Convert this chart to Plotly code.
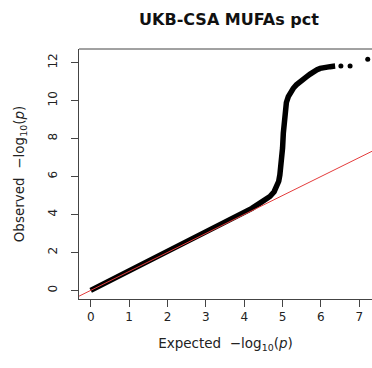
import plotly.graph_objects as go

# QQ data (expected vs observed -log10 p)
curve_expected = [0, 0.5, 1.0, 1.5, 2.0, 2.5, 3.0, 3.37, 3.63, 4.0, 4.2, 4.41, 4.55, 4.67,
                  4.78, 4.85, 4.9, 4.93, 4.96, 4.98, 5.0, 5.02, 5.04, 5.06, 5.1, 5.15,
                  5.21, 5.28, 5.36, 5.45, 5.54, 5.63, 5.72, 5.8, 5.9, 5.98, 6.1, 6.24, 6.37]
curve_observed = [0, 0.51, 1.02, 1.53, 2.04, 2.55, 3.07, 3.46, 3.72, 4.1, 4.32, 4.6, 4.77, 4.95,
                  5.2, 5.47, 5.75, 6.09, 6.5, 6.9, 7.5, 8.28, 8.9, 9.51, 9.9, 10.21,
                  10.45, 10.65, 10.83, 11.0, 11.13, 11.26, 11.4, 11.53, 11.63, 11.7, 11.76, 11.79, 11.82]
tail_expected = [6.52, 6.76, 7.22]
tail_observed = [11.82, 11.82, 12.18]
diag = [-1, 9]
x_ticks = [0, 1, 2, 3, 4, 5, 6, 7]
y_ticks = [0, 2, 4, 6, 8, 10, 12]

FONT = "DejaVu Sans"
AX = "#444444"

fig = go.Figure()
fig.add_trace(go.Scatter(x=curve_expected, y=curve_observed, mode="lines",
                         line=dict(color="black", width=5.5), showlegend=False))
fig.add_trace(go.Scatter(x=tail_expected, y=tail_observed, mode="markers",
                         marker=dict(color="black", size=5), showlegend=False))
fig.add_trace(go.Scatter(x=diag, y=diag, mode="lines",
                         line=dict(color="rgb(228,60,60)", width=1), showlegend=False))

fig.update_layout(
    width=372, height=368,
    margin=dict(l=79, r=0, t=49, b=69),
    paper_bgcolor="white", plot_bgcolor="white",
    font=dict(family=FONT, color="#222222", size=12),
    title=dict(text="<b>UKB-CSA MUFAs pct</b>", x=229/372, xref="container", xanchor="center",
               y=1-19/368, yref="container", yanchor="middle",
               font=dict(family=FONT, size=16, color="#111111")),
    xaxis=dict(range=[-0.305, 7.331], tickvals=x_ticks, showgrid=False, zeroline=False,
               showline=True, linecolor=AX, linewidth=1, ticks="outside", ticklen=7,
               tickcolor=AX, tickfont=dict(size=12),
               title=dict(text="Expected  \u2212log<sub>10</sub>(<i>p</i>)", standoff=15,
                          font=dict(size=13.5))),
    yaxis=dict(range=[-0.453, 12.72], tickvals=y_ticks, showgrid=False, zeroline=False,
               showline=True, linecolor=AX, linewidth=1, ticks="outside", ticklen=7,
               tickcolor=AX, tickangle=-90, tickfont=dict(size=12), ticklabelstandoff=9,
               title=dict(text="Observed  \u2212log<sub>10</sub>(<i>p</i>)", standoff=18,
                          font=dict(size=13.5))),
    shapes=[dict(type="line", xref="paper", yref="paper", x0=0, x1=1, y0=1, y1=1,
                 line=dict(color=AX, width=1))],
)

fig.write_html("out.html", config={"displayModeBar": False},
               post_script="document.body.style.margin='0';document.body.style.overflow='hidden';")
